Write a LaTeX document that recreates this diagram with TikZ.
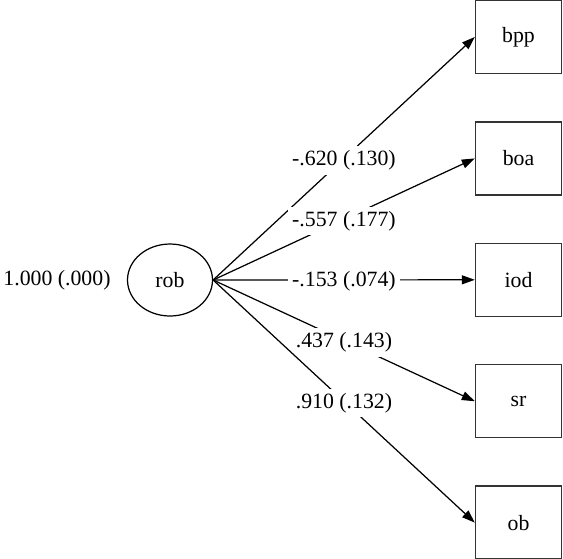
\documentclass[tikz,border=0pt]{standalone}
\usepackage{fontspec}
\setmainfont{Liberation Serif}
\usetikzlibrary{positioning,arrows.meta,shapes.geometric}
\tikzset{
  latent/.style={ellipse, draw=black, line width=0.7pt, minimum width=1.70cm,
                 minimum height=1.44cm, inner sep=0pt},
  obs/.style={rectangle, draw=black!80, line width=0.8pt, minimum width=1.72cm,
              minimum height=1.46cm, inner sep=0pt},
  load/.style={-{Triangle[length=2.6mm, width=1.8mm]}, line width=0.7pt},
  est/.style={fill=white, inner sep=2.5pt, pos=0.5, yshift=-1pt}
}
\begin{document}
\begin{tikzpicture}[node distance=0.94cm, font=\fontsize{12.4}{14}\selectfont]
\useasboundingbox (0,0) rectangle (11.26,-11.16);
\node[latent] (rob) at (3.40,-5.60) {rob};
\node[inner sep=0pt, left=0.32cm of rob] (var) {1.000 (.000)};
\node[obs] (bpp) at (10.37,-0.74) {bpp};
\node[obs, below=of bpp] (boa) {boa};
\node[obs, below=of boa] (iod) {iod};
\node[obs, below=of iod] (sr) {sr};
\node[obs, below=of sr] (ob) {ob};
\draw[load] (rob.east) -- node[est] {-.620 (.130)} (bpp.west);
\draw[load] (rob.east) -- node[est] {-.557 (.177)} (boa.west);
\draw[load] (rob.east) -- node[est] {-.153 (.074)} (iod.west);
\draw[load] (rob.east) -- node[est] {.437 (.143)} (sr.west);
\draw[load] (rob.east) -- node[est] {.910 (.132)} (ob.west);
\end{tikzpicture}
\end{document}
